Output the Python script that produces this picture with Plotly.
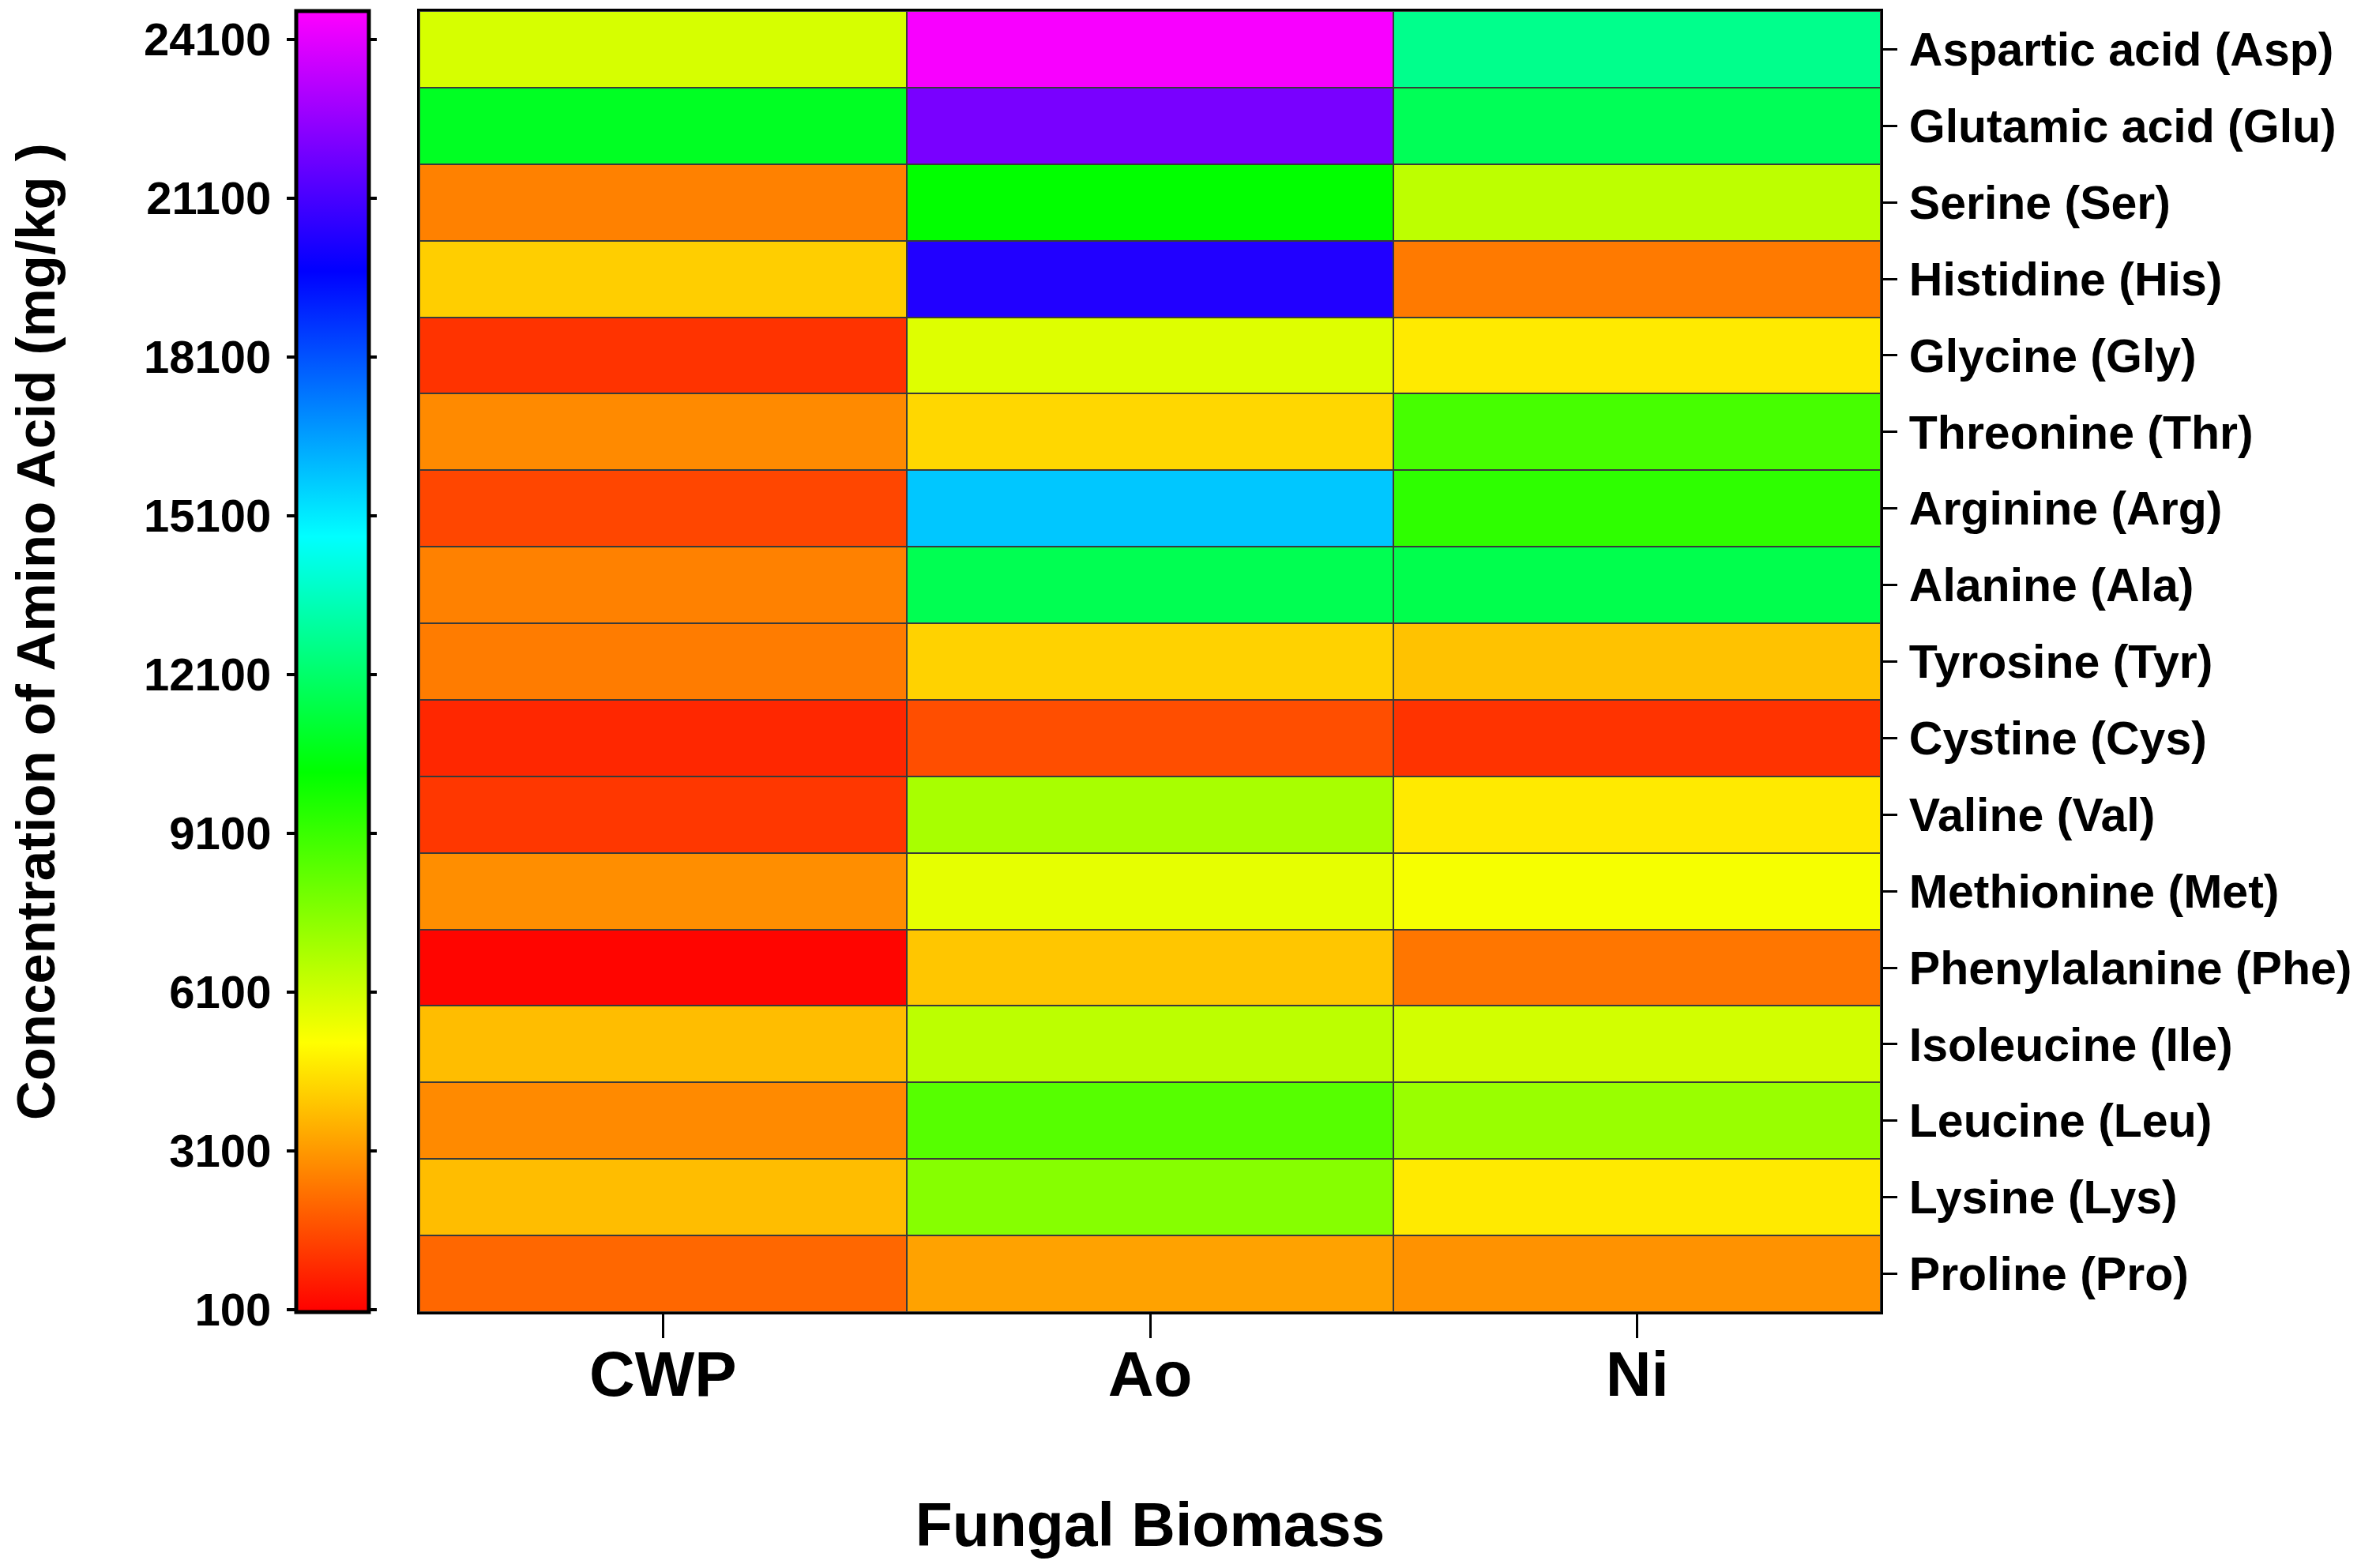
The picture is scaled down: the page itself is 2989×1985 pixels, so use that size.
import plotly.graph_objects as go

# 数据：真菌生物量中氨基酸含量 (mg/kg)，按色块颜色估读
biomass = ['CWP', 'Ao', 'Ni']
amino_acids = [
    'Aspartic acid (Asp)', 'Glutamic acid (Glu)', 'Serine (Ser)', 'Histidine (His)',
    'Glycine (Gly)', 'Threonine (Thr)', 'Arginine (Arg)', 'Alanine (Ala)',
    'Tyrosine (Tyr)', 'Cystine (Cys)', 'Valine (Val)', 'Methionine (Met)',
    'Phenylalanine (Phe)', 'Isoleucine (Ile)', 'Leucine (Leu)', 'Lysine (Lys)',
    'Proline (Pro)',
]
cwp = [5970, 10860, 2630, 4170, 1060, 2810, 1450, 2630, 2530, 820, 1140, 2890, 150, 3830, 2810, 3830, 2100]
ao = [24500, 22050, 10240, 20350, 5800, 4340, 15810, 11680, 4240, 1610, 6880, 5640, 4000, 6480, 8520, 7570, 3290]
ni = [12700, 11770, 6470, 2490, 4720, 8850, 9330, 11600, 3930, 1060, 4720, 5320, 2410, 6040, 7180, 4720, 2970]

cbar_ticks = [100, 3100, 6100, 9100, 12100, 15100, 18100, 21100, 24100]
z_min, z_max = 50, 24640

rainbow = [
    [0.0, '#FF0000'],
    [0.207, '#FFFF00'],
    [0.415, '#00FF00'],
    [0.596, '#00FFFF'],
    [0.80, '#0000FF'],
    [1.0, '#FF00FF'],
]

W, H = 2989, 1985
# 像素位置 -> paper 坐标
hm_x0, hm_x1 = 523 / W, 2373 / W
hm_y0, hm_y1 = 1 - 1653 / H, 1 - 6 / H
cb_x = 367 / W

z = [list(r) for r in zip(cwp, ao, ni)]

fig = go.Figure()
fig.add_trace(go.Heatmap(
    x=biomass,
    y=amino_acids,
    z=z,
    zmin=z_min,
    zmax=z_max,
    colorscale=rainbow,
    xgap=2,
    ygap=2,
    hoverongaps=False,
    colorbar=dict(
        x=cb_x, xanchor='left', xref='paper', xpad=0,
        y=hm_y0, yanchor='bottom', yref='paper', ypad=0,
        len=hm_y1 - hm_y0, lenmode='fraction',
        thickness=92,
        outlinewidth=5, outlinecolor='black',
        tickmode='array', tickvals=cbar_ticks,
        ticks='outside', ticklen=8, tickwidth=4, tickcolor='black',
        showticklabels=False,
    ),
))

# 空的辅助 trace，让色标左侧的刻度轴显示出来
fig.add_trace(go.Scatter(
    x=[biomass[0], biomass[0]],
    y=[z_min, z_max],
    mode='none',
    yaxis='y2',
    hoverinfo='skip',
    showlegend=False,
))

font_family = 'Liberation Sans, Arial, sans-serif'

fig.update_layout(
    width=W,
    height=H,
    template='none',
    margin=dict(l=0, r=0, t=0, b=0),
    paper_bgcolor='white',
    plot_bgcolor='#3a3a3a',
    font=dict(family=font_family, color='black'),
    showlegend=False,
    xaxis=dict(
        domain=[hm_x0, hm_x1],
        automargin=False,
        showline=True, mirror=True, linecolor='black', linewidth=3,
        ticks='outside', ticklen=30, tickwidth=3, tickcolor='black',
        ticklabelstandoff=-23,
        tickfont=dict(size=80, weight='bold'),
        showgrid=False, zeroline=False,
        title=dict(text='Fungal Biomass', standoff=121,
                   font=dict(size=77, weight='bold')),
    ),
    yaxis=dict(
        domain=[hm_y0, hm_y1],
        automargin=False,
        side='right',
        autorange='reversed',
        showline=True, mirror=True, linecolor='black', linewidth=3,
        ticks='outside', ticklen=18, tickwidth=3, tickcolor='black',
        ticklabelstandoff=3,
        tickfont=dict(size=59, weight='bold'),
        showgrid=False, zeroline=False,
    ),
    # 色标左侧刻度
    yaxis2=dict(
        overlaying='y',
        anchor='free',
        position=cb_x,
        side='left',
        range=[z_min, z_max],
        automargin=False,
        tickmode='array',
        tickvals=cbar_ticks,
        ticktext=[str(v) for v in cbar_ticks],
        ticks='outside', ticklen=12, tickwidth=4, tickcolor='black',
        ticklabelstandoff=8,
        tickfont=dict(size=58, weight='bold'),
        showgrid=False, zeroline=False, showline=False,
        fixedrange=True,
    ),
    annotations=[dict(
        text='Concentration of Amino Acid (mg/kg )',
        xref='paper', yref='paper',
        x=38 / W, y=1 - 792 / H,
        xanchor='center', yanchor='middle',
        textangle=-90,
        showarrow=False,
        font=dict(size=69, weight='bold'),
    )],
)

fig.write_html('out.html')
